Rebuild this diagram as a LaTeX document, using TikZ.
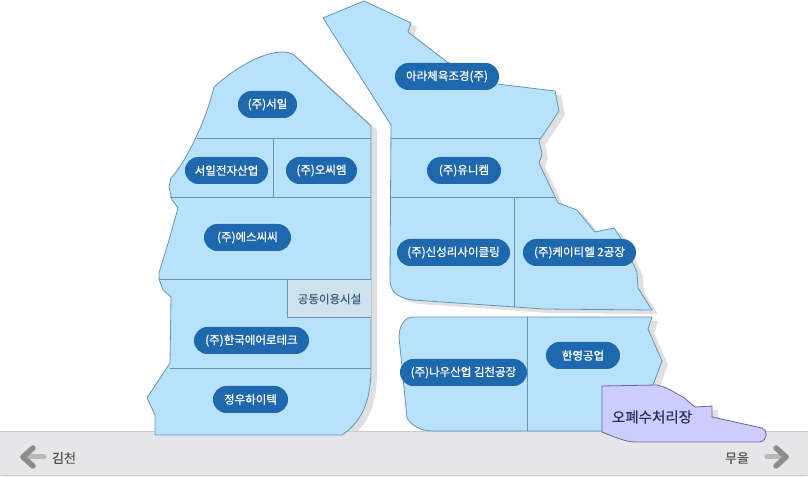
\documentclass[tikz,border=0pt]{standalone}
\usepackage{fontspec}
\setmainfont{Noto Sans CJK KR}
\definecolor{lotcol}{HTML}{B8E2FA}
\definecolor{linecol}{HTML}{6494BC}
\definecolor{pillcol}{HTML}{1E68AE}
\definecolor{sharedcol}{HTML}{D0E2EE}
\definecolor{sharedtext}{HTML}{3F5F7F}
\definecolor{plantcol}{HTML}{CCCCFF}
\definecolor{plantline}{HTML}{6F6496}
\definecolor{planttext}{HTML}{2C2C6A}
\definecolor{bandcol}{HTML}{E6E6E8}
\tikzset{
  lot/.style={fill=lotcol,draw=linecol,line width=0.8bp,line join=bevel},
  divider/.style={draw=linecol,line width=0.8bp},
  drop/.style={fill=black!12,draw=none,shift={(6bp,-4bp)}},
  pill/.style={fill=pillcol,text=white,rounded corners=13.4bp,minimum height=27bp,minimum width=#1,inner sep=0pt,font=\fontsize{11.5bp}{13bp}\selectfont\addfontfeature{FakeBold=1}},
  roadlabel/.style={text=black!68,font=\fontsize{13bp}{15bp}\selectfont\addfontfeature{FakeBold=0.3}},
  roadshaft/.style={draw=black!28,line width=5bp,line cap=round},
  roadhead/.style={draw=black!45,line width=5.5bp,line cap=round,line join=round},
}
\newcommand{\westlot}{(214bp,397bp) .. controls (235bp,416bp) and (262bp,432bp) .. (283bp,432bp) .. controls (289bp,432bp) and (294bp,430bp) .. (297bp,426bp) -- (371bp,358bp) -- (371bp,116bp) .. controls (371bp,89bp) and (365bp,64bp) .. (342bp,49bp) -- (155bp,49bp) -- (155bp,69bp) -- (147bp,86bp) -- (170bp,121bp) -- (171bp,187bp) -- (163bp,194bp) -- (159bp,205bp) -- (159bp,211bp) -- (169bp,244bp) -- (178bp,276bp) -- (172bp,284bp) -- (169bp,297bp) -- (171bp,306bp) .. controls (185bp,321bp) and (205bp,360bp) .. (214bp,397bp) -- cycle}
\newcommand{\northlot}{(323bp,466bp) -- (364bp,483bp) -- (411bp,461bp) -- (408bp,452bp) -- (447bp,422bp) -- (497bp,400bp) -- (555bp,393bp) -- (559bp,373bp) -- (539bp,343bp) -- (542bp,330bp) -- (539bp,321bp) -- (558bp,281bp) -- (577bp,274bp) -- (595bp,252bp) -- (614bp,256bp) -- (622bp,244bp) -- (637bp,212bp) -- (638bp,196bp) -- (652bp,174bp) -- (543bp,175bp) -- (515bp,177bp) -- (413bp,184bp) .. controls (398bp,186bp) and (390bp,192bp) .. (390bp,204bp) -- (391bp,359bp) -- cycle}
\newcommand{\southlot}{(413bp,167bp) -- (652bp,167bp) -- (648bp,155bp) -- (662bp,123bp) -- (653bp,99bp) -- (602bp,53bp) -- (432bp,53bp) .. controls (420bp,53bp) and (410bp,60bp) .. (407bp,66bp) -- (399bp,147bp) .. controls (399bp,157bp) and (404bp,167bp) .. (413bp,167bp) -- cycle}
\newcommand{\plantlot}{(602bp,98bp) -- (657bp,99bp) .. controls (670bp,96bp) and (676bp,90bp) .. (683bp,87bp) -- (695bp,77bp) -- (712bp,78bp) -- (712bp,67bp) -- (762bp,56bp) .. controls (768bp,54bp) and (768bp,44bp) .. (760bp,42bp) -- (635bp,42bp) .. controls (625bp,42bp) and (612bp,48bp) .. (602bp,52bp) -- cycle}
\begin{document}
\begin{tikzpicture}[line join=bevel]
  \useasboundingbox (0bp,0bp) rectangle (809bp,484bp);
  % Shadows
  \fill [drop] \westlot;
  \fill [drop] \northlot;
  \fill [drop] \southlot;
  \fill [drop] \plantlot;
  % Road
  \fill [black!5] (3bp,7bp) rectangle (805bp,10bp);
  \fill [bandcol] (0bp,9bp) rectangle (808bp,53bp);
  \draw [black!20] (0bp,53bp) -- (808bp,53bp);
  \draw [black!20] (0bp,9bp) -- (808bp,9bp);
  % Lot: west
  \draw [lot] \westlot;
  \fill [sharedcol] (287bp,167bp) rectangle (371bp,205bp);
  \draw [divider] (197bp,346bp) -- (371bp,346bp);
  \draw [divider] (273bp,346bp) -- (273bp,287bp);
  \draw [divider] (170bp,287bp) -- (371bp,287bp);
  \draw [divider] (159bp,205bp) -- (371bp,205bp);
  \draw [divider] (287bp,205bp) -- (287bp,167bp) -- (371bp,167bp);
  \draw [divider] (170bp,116bp) -- (371bp,116bp);
  % Lot: north
  \draw [lot] \northlot;
  \draw [divider] (391bp,346bp) -- (540bp,346bp);
  \draw [divider] (390bp,287bp) -- (556bp,287bp);
  \draw [divider] (514bp,287bp) -- (514bp,177bp);
  % Lot: south
  \draw [lot] \southlot;
  \draw [divider] (527bp,167bp) -- (527bp,53bp);
  % Lot: plant
  \draw [fill=plantcol,draw=plantline,line width=0.8bp] \plantlot;
  % Nodes
  \node [pill=59bp] (seoil) at (267.5bp,379.5bp) {(주)서일};
  \node [pill=83bp] (seoilelec) at (226.5bp,313.5bp) {서일전자산업};
  \node [pill=71bp] (osem) at (321.5bp,313.5bp) {(주)오씨엠};
  \node [pill=87bp] (esscc) at (247.5bp,246.5bp) {(주)에스씨씨};
  \node [text=sharedtext,font=\fontsize{11.5bp}{13bp}\selectfont\addfontfeature{FakeBold=0.9}] (shared) at (329.5bp,185bp) {공동이용시설};
  \node [pill=115bp] (aerotech) at (251.5bp,143.5bp) {(주)한국에어로테크};
  \node [pill=75bp] (jungwoo) at (250.5bp,84.5bp) {정우하이텍};
  \node [pill=104bp] (ara) at (447bp,407.5bp) {아라체육조경(주)};
  \node [pill=74bp] (unichem) at (464bp,313.5bp) {(주)유니켐};
  \node [pill=113bp] (shinsung) at (453.5bp,231.5bp) {(주)신성리사이클링};
  \node [pill=113bp] (ktl) at (579.5bp,231.5bp) {(주)케이티엘 2공장};
  \node [pill=127bp] (nawoo) at (463.5bp,111.5bp) {(주)나우산업 김천공장};
  \node [pill=74bp] (hanyoung) at (583bp,128.5bp) {한영공업};
  \node [text=planttext,font=\fontsize{14.5bp}{17bp}\selectfont\addfontfeature{FakeBold=0.6}] (plant) at (652bp,67bp) {오폐수처리장};
  \node [roadlabel] (gimcheon) at (64bp,26bp) {김천};
  \node [roadlabel] (mueul) at (737bp,26bp) {무을};
  % Road arrows
  \coordinate (westtail) at (44bp,27bp);
  \coordinate (westtip) at (23bp,27bp);
  \coordinate (easttail) at (767bp,27bp);
  \coordinate (easttip) at (786bp,27bp);
  \draw [roadshaft] (westtail) -- (westtip);
  \draw [roadhead] ([shift={(10bp,9bp)}]westtip) -- (westtip) -- ([shift={(10bp,-9bp)}]westtip);
  \draw [roadshaft] (easttail) -- (easttip);
  \draw [roadhead] ([shift={(-10bp,9bp)}]easttip) -- (easttip) -- ([shift={(-10bp,-9bp)}]easttip);
\end{tikzpicture}
\end{document}
